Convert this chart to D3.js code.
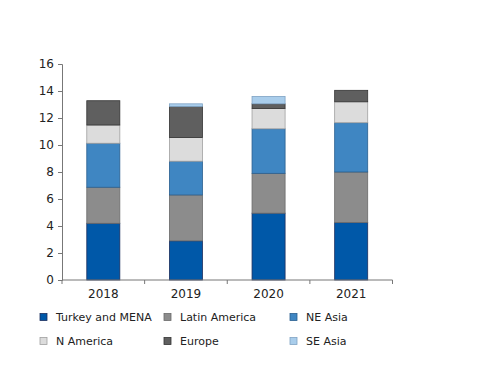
<!DOCTYPE html>
<html><head><meta charset="utf-8">
<script src="https://cdn.jsdelivr.net/npm/d3@7"></script>
<style>body{margin:0;background:#fff}svg{display:block}</style>
</head><body>
<svg id="c" width="500" height="386"></svg>
<script>
const categories = ["2018","2019","2020","2021"];
const seriesNames = ["Turkey and MENA","Latin America","NE Asia","N America","Europe","SE Asia"];
const turkeyMena = [4.2, 2.9, 4.95, 4.25];
const latinAmerica = [2.67, 3.4, 2.95, 3.75];
const neAsia = [3.26, 2.5, 3.3, 3.65];
const nAmerica = [1.35, 1.75, 1.5, 1.55];
const europe = [1.8, 2.3, 0.35, 0.85];
const seAsia = [0, 0.2, 0.55, 0];
const yTicks = [0,2,4,6,8,10,12,14,16];
const colors = ["#0058a8","#8c8c8c","#3f86c2","#dcdcdc","#5f5f5f","#a9cdeb"];
const strokes = ["#1c2f5e","#6a6a6a","#2a5f8f","#a0a0a0","#333333","#7fa3c4"];

const seriesVals = [turkeyMena, latinAmerica, neAsia, nAmerica, europe, seAsia];
const table = categories.map((c,i)=>{
  const o={cat:c}; seriesNames.forEach((s,j)=>o[s]=seriesVals[j][i]); return o;});
const stacked = d3.stack().keys(seriesNames)(table);

const svg = d3.select("#c");
const x = d3.scaleBand().domain(categories).range([62,392.5]).paddingInner(0.6).paddingOuter(0.3);
const y = d3.scaleLinear().domain([0,16]).range([280,64]);

const font = "'DejaVu Sans', Verdana, sans-serif";

stacked.forEach((layer,j)=>{
  svg.append("g").selectAll("rect").data(layer.filter(d=>d[1]-d[0]>0)).join("rect")
    .attr("x", d=>x(d.data.cat)).attr("width", x.bandwidth())
    .attr("y", d=>y(d[1])).attr("height", d=>y(d[0])-y(d[1]))
    .attr("fill", colors[j]).attr("stroke", strokes[j]).attr("stroke-width", 0.8);
});

// y axis
const ya = svg.append("g").attr("transform","translate(62,0)")
  .call(d3.axisLeft(y).tickValues(yTicks).tickSize(4).tickPadding(4).tickFormat(d3.format("d")));
ya.select(".domain").attr("stroke","#777");
ya.selectAll(".tick line").attr("stroke","#777");
ya.selectAll("text").attr("font-family",font).attr("font-size","12px").attr("fill","#222");

// x axis with ticks at band boundaries
const xa = svg.append("g").attr("transform","translate(0,280)");
xa.append("line").attr("x1",62).attr("x2",392.5).attr("y1",0).attr("y2",0).attr("stroke","#777");
const step = x.step();
const bounds = categories.map((c,i)=>x(c)-x.bandwidth()*0+ (x.bandwidth()/2) - step/2).concat([x(categories[categories.length-1])+x.bandwidth()/2+step/2]);
xa.selectAll(".bt").data(bounds).join("line").attr("x1",d=>d).attr("x2",d=>d).attr("y1",0).attr("y2",4).attr("stroke","#777");
xa.selectAll(".lbl").data(categories).join("text")
  .attr("x",d=>x(d)+x.bandwidth()/2).attr("y",18).attr("text-anchor","middle")
  .attr("font-family",font).attr("font-size","12px").attr("fill","#222").text(d=>d);

// legend
const legX = [43,167,293];
const legY = [317,341];
seriesNames.forEach((s,j)=>{
  const cx = legX[j%3], cy = legY[Math.floor(j/3)];
  svg.append("rect").attr("x",cx-3).attr("y",cy-3.5).attr("width",7).attr("height",7)
    .attr("fill",colors[j]).attr("stroke",strokes[j]).attr("stroke-width",0.8);
  svg.append("text").attr("x",cx+13).attr("y",cy+4).attr("font-family",font)
    .attr("font-size","11px").attr("fill","#222").text(s);
});
</script>
</body></html>
